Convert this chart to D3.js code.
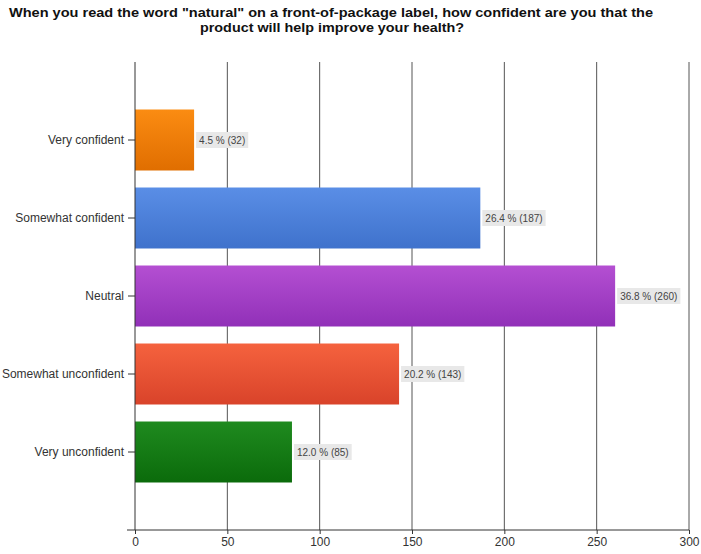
<!DOCTYPE html>
<html>
<head>
<meta charset="utf-8">
<script src="https://cdn.jsdelivr.net/npm/d3@7"></script>
<style>
  body { margin: 0; background: #fff; }
  svg { display: block; font-family: "Liberation Sans", Arial, sans-serif; }
</style>
</head>
<body>
<svg id="chart" width="701" height="554"></svg>
<script>
// survey answers
const categories = ["Very confident", "Somewhat confident", "Neutral", "Somewhat unconfident", "Very unconfident"];
const counts = [32, 187, 260, 143, 85];
const percents = ["4.5", "26.4", "36.8", "20.2", "12.0"];
const xTicks = [0, 50, 100, 150, 200, 250, 300];
const barColors = [
  ["#fb8c12", "#e06e00"],
  ["#5a8ee6", "#3f72cc"],
  ["#b44fd2", "#9130b8"],
  ["#f5623e", "#d9432a"],
  ["#1f8a1f", "#0b6b0b"]
];

const svg = d3.select("#chart");
const width = 701;
const height = 554;
const margin = { top: 62, right: 12, bottom: 24, left: 135 };

const x = d3.scaleLinear()
  .domain([0, 300])
  .range([margin.left, 689]);

const y = d3.scaleBand()
  .domain(categories)
  .range([margin.top, height - margin.bottom])
  .paddingInner(0.218)
  .paddingOuter(0.609);

// title
const title = svg.append("text")
  .attr("text-anchor", "middle")
  .attr("font-size", 13.5)
  .attr("font-weight", "bold")
  .attr("fill", "#111");
title.append("tspan").attr("x", 331).attr("y", 17)
  .attr("textLength", 644).attr("lengthAdjust", "spacingAndGlyphs")
  .text('When you read the word "natural"  on a front-of-package label, how confident are you that the');
title.append("tspan").attr("x", 332).attr("y", 32)
  .attr("textLength", 264).attr("lengthAdjust", "spacingAndGlyphs")
  .text("product will help improve your health?");

// gradients for bars
const defs = svg.append("defs");
barColors.forEach((c, i) => {
  const g = defs.append("linearGradient")
    .attr("id", "grad" + i)
    .attr("x1", 0).attr("y1", 0).attr("x2", 0).attr("y2", 1);
  g.append("stop").attr("offset", "0%").attr("stop-color", c[0]);
  g.append("stop").attr("offset", "100%").attr("stop-color", c[1]);
});

// vertical grid lines
svg.append("g")
  .selectAll("line")
  .data(xTicks.slice(1))
  .join("line")
  .attr("x1", d => x(d)).attr("x2", d => x(d))
  .attr("y1", margin.top).attr("y2", height - margin.bottom)
  .attr("stroke", "#555")
  .attr("stroke-width", 1);

// bars
svg.append("g")
  .selectAll("rect")
  .data(categories)
  .join("rect")
  .attr("x", x(0))
  .attr("y", d => y(d))
  .attr("width", (d, i) => x(counts[i]) - x(0))
  .attr("height", y.bandwidth())
  .attr("fill", (d, i) => `url(#grad${i})`);

// value labels
const labels = svg.append("g")
  .selectAll("g")
  .data(categories)
  .join("g")
  .attr("transform", (d, i) => `translate(${x(counts[i]) + 2},${y(d) + y.bandwidth() / 2})`);

labels.each(function (d, i) {
  const g = d3.select(this);
  const t = g.append("text")
    .attr("x", 3)
    .attr("dy", "0.35em")
    .attr("font-size", 10)
    .attr("fill", "#444")
    .text(`${percents[i]} % (${counts[i]})`);
  const w = t.node().getComputedTextLength();
  g.insert("rect", "text")
    .attr("x", 0).attr("y", -8)
    .attr("width", w + 6).attr("height", 16)
    .attr("fill", "#e8e8e8");
});

// x axis
const xAxis = svg.append("g")
  .attr("transform", `translate(0,${height - margin.bottom})`)
  .call(d3.axisBottom(x).tickValues(xTicks).tickSize(4).tickPadding(3));
xAxis.select(".domain").remove();
xAxis.append("line")
  .attr("x1", 127).attr("x2", x(300))
  .attr("stroke", "#333");
xAxis.selectAll(".tick line").attr("stroke", "#333");
xAxis.selectAll(".tick text")
  .attr("font-size", 12)
  .attr("font-family", "Liberation Sans, Arial, sans-serif")
  .attr("fill", "#333");

// y axis
const yAxis = svg.append("g")
  .attr("transform", `translate(${margin.left},0)`)
  .call(d3.axisLeft(y).tickSize(7).tickPadding(4));
yAxis.select(".domain").remove();
yAxis.append("line")
  .attr("y1", margin.top).attr("y2", height - margin.bottom)
  .attr("stroke", "#333");
yAxis.selectAll(".tick line").attr("stroke", "#333");
yAxis.selectAll(".tick text")
  .attr("font-size", 12)
  .attr("font-family", "Liberation Sans, Arial, sans-serif")
  .attr("fill", "#333");
</script>
</body>
</html>
